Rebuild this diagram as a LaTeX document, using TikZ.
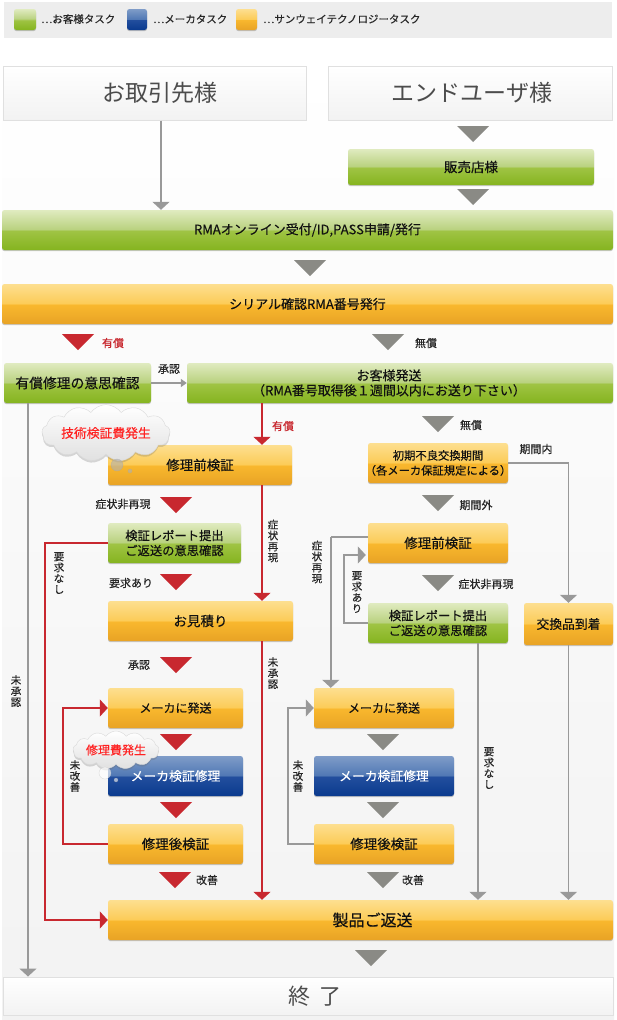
\documentclass[tikz,border=0pt]{standalone}
\usepackage{fontspec}
\setmainfont[FakeBold=0.3]{Noto Sans CJK JP}
\newfontfamily\lightf{Noto Sans CJK JP}
\usetikzlibrary{arrows.meta,shadows,shapes.symbols}
\definecolor{gt}{HTML}{E0EBC0}\definecolor{gma}{HTML}{B8D17E}\definecolor{gmb}{HTML}{A0C445}\definecolor{gb}{HTML}{85B41F}
\definecolor{ot}{HTML}{FDDF90}\definecolor{oma}{HTML}{FCCB57}\definecolor{omb}{HTML}{F9B82E}\definecolor{ob}{HTML}{E8A325}
\definecolor{bt}{HTML}{7F9CC8}\definecolor{bma}{HTML}{5078B4}\definecolor{bmb}{HTML}{234F9E}\definecolor{bb}{HTML}{0A3A8E}
\definecolor{redc}{HTML}{C8282F}\definecolor{grayc}{HTML}{999999}\definecolor{trig}{HTML}{8A8A85}\definecolor{ink}{HTML}{111111}\definecolor{cloudred}{HTML}{FF2222}
\pgfdeclareverticalshading{glossg}{100bp}{color(0bp)=(gb); color(25bp)=(gb); color(49.7bp)=(gmb); color(50.3bp)=(gma); color(75bp)=(gt); color(100bp)=(gt)}
\pgfdeclareverticalshading{glosso}{100bp}{color(0bp)=(ob); color(25bp)=(ob); color(49.7bp)=(omb); color(50.3bp)=(oma); color(75bp)=(ot); color(100bp)=(ot)}
\pgfdeclareverticalshading{glossb}{100bp}{color(0bp)=(bb); color(25bp)=(bb); color(49.7bp)=(bmb); color(50.3bp)=(bma); color(75bp)=(bt); color(100bp)=(bt)}
\newcommand\fz[1]{\fontsize{#1}{15}\selectfont}
\tikzset{
 base/.style={rounded corners=2.5pt,inner sep=0pt,align=center,text=ink,font=\fz{13.5},
   drop shadow={shadow xshift=0pt,shadow yshift=-1.2pt,opacity=.35,fill=black!60}},
 gbox/.style={base,shading=glossg},
 obox/.style={base,shading=glosso},
 bbox/.style={base,shading=glossb,text=white},
 wbox/.style={inner sep=0pt,draw=black!12,line width=1pt,top color=white,bottom color=black!5,text=black!70,align=center},
 lab/.style={inner sep=0pt,text=black!85,font=\fontsize{11}{11}\selectfont,align=center},
 vlab/.style={lab,font=\fontsize{10.5}{11}\selectfont},
 rlab/.style={lab,text=redc},
 leg/.style={inner sep=0pt,anchor=west,text=black!85,font=\fontsize{10.5}{12}\selectfont},
 gc/.style={draw=grayc,line width=1.5pt,-{Triangle[width=17pt,length=8pt]}},
 rc/.style={draw=redc,line width=1.5pt,-{Triangle[width=17pt,length=8pt]}},
 gsmall/.style={draw=grayc,line width=1.5pt,-{Triangle[width=8pt,length=6pt]}},
 bubble/.style={cloud,cloud puffs=13,cloud puff arc=110,aspect=3,inner sep=0pt,draw=black!15,top color=white,bottom color=black!12,text=cloudred,
   drop shadow={shadow xshift=0pt,shadow yshift=-2pt,opacity=.25,fill=black!60}},
 dot/.style={circle,inner sep=0pt,fill=black!30,draw=black!35,fill opacity=.6,draw opacity=.5},
}
\newcommand\bx[6]{\node[#1,minimum width={(#4-#2)*1pt},minimum height={(#5-#3)*1pt}] (#6) at ({(#2+#4)/2},{(#3+#5)/2})}
\newcommand\tri[3]{\fill[#3] ({#1-16},#2) -- ({#1+16},#2) -- (#1,{#2+16}) -- cycle;}
\begin{document}
\begin{tikzpicture}[x=1pt,y=-1pt]
\useasboundingbox (0,0) rectangle (616,1020);
\fill[white] (0,0) rectangle (616,1020);
\shade[top color=white,bottom color=black!5] (2,65) rectangle (614,1020);
% legend
\fill[black!7] (4,2) rectangle (612,38);
\bx{gbox}{14}{9}{36}{30}{lgG} {};
\bx{bbox}{127}{9}{147}{30}{lgB} {};
\bx{obox}{236}{9}{257}{30}{lgO} {};
\node[leg] (ltG) at (41,19) {…お客様タスク};
\node[leg] (ltB) at (153,19) {…メーカタスク};
\node[leg] (ltO) at (263,19) {…サンウェイテクノロジータスク};
% boxes
\bx{wbox,font=\lightf\fz{23}}{3}{66}{306}{120}{torihiki} {\raisebox{-1.5pt}{お取引先様}\hspace*{-11pt}};
\bx{wbox,font=\lightf\fz{23}}{328}{66}{612}{120}{enduser} {\raisebox{-1.5pt}{エンドユーザ様}\hspace*{-4pt}};
\bx{gbox}{348}{149}{594}{185}{hanbai} {販売店様};
\bx{gbox,font=\fz{13}}{2}{210}{613}{250}{rma} {\raisebox{-1pt}{RMAオンライン受付/ID,PASS申請/発行}};
\bx{obox,font=\fz{13}}{2}{284}{613}{324}{serial} {シリアル確認RMA番号発行};
\bx{gbox,font=\fz{13.8}}{4}{363}{151}{403}{yushoC} {有償修理の意思確認};
\bx{gbox,font=\fz{13}}{187}{363}{613}{403}{okyaku} {お客様発送\hspace*{22pt}\\（RMA番号取得後１週間以内にお送り下さい）\hspace*{22pt}};
\bx{obox}{108}{445}{292}{485}{maeL} {修理前検証};
\bx{gbox,font=\fz{12.3}}{108}{523}{241}{563}{repL} {検証レポート提出\\ご返送の意思確認};
\bx{obox}{108}{601}{293}{641}{mitsu} {お見積り};
\bx{obox,font=\fz{12}}{108}{688}{243}{728}{sendL} {メーカに発送};
\bx{bbox,font=\fz{12.8}}{108}{756}{243}{796}{makerL} {メーカ検証修理};
\bx{obox}{108}{824}{243}{864}{atoL} {修理後検証};
\bx{obox,font=\fz{16}}{108}{900}{613}{940}{henso} {製品ご返送\hspace*{-24pt}};
\bx{wbox,font=\lightf\fz{22}}{3}{977}{613}{1015}{owari} {\raisebox{-1pt}{終\hspace{0.4em}了}\hspace*{-14pt}};
\bx{obox,font=\fz{11.3}}{368}{443}{508}{483}{shoki} {初期不良交換期間\\\hspace*{-5pt}（各メーカ保証規定による）\hspace*{-5pt}};
\bx{obox}{368}{523}{508}{563}{maeR} {修理前検証};
\bx{gbox,font=\fz{12.3}}{368}{603}{508}{643}{repR} {検証レポート提出\\ご返送の意思確認};
\bx{obox,font=\fz{12.8}}{524}{603}{613}{645}{kokan} {交換品到着};
\bx{obox,font=\fz{12}}{314}{688}{454}{728}{sendR} {メーカに発送};
\bx{bbox,font=\fz{12.8}}{314}{756}{454}{796}{makerR} {メーカ検証修理};
\bx{obox}{314}{824}{454}{864}{atoR} {修理後検証};
% connectors
\draw[gc] ([xshift=6.5pt]torihiki.south) -- ([xshift=6.5pt]torihiki.south |- rma.north);
\draw[gsmall] (yushoC.east) -- (okyaku.west);
\draw[gc] ([xshift=-49.5pt]yushoC.south) -- ([xshift=-49.5pt]yushoC.south |- owari.north);
\draw[rc] ([xshift=-138pt]okyaku.south) -- ([xshift=-138pt]okyaku.south |- maeL.north);
\draw[rc] ([xshift=62pt]maeL.south) -- ([xshift=62pt]maeL.south |- mitsu.north);
\draw[rc] ([xshift=61.5pt]mitsu.south) -- ([xshift=61.5pt]mitsu.south |- henso.north);
\draw[rc] (repL.west) -- ++(-63,0) coordinate (repLc) |- (henso.west);
\draw[rc] (atoL.west) -- ++(-45,0) coordinate (atoLc) |- (sendL.west);
\draw[gc] (shoki.east) -| (kokan.north);
\draw[gc] (kokan.south) -- (kokan.south |- henso.north);
\draw[gc] ([xshift=40pt]repR.south) -- ([xshift=40pt]repR.south |- henso.north);
\draw[draw=grayc,line width=1.5pt] ([yshift=6pt]maeR.west) -- ++(-37,0) coordinate (maeRc);
\draw[gc] (maeRc) -- (maeRc |- sendR.north);
\draw[gsmall,-{Triangle[width=17pt,length=8pt]}] (repR.west) -- ++(-24,0) coordinate (repRc) |- ([yshift=-12pt,xshift=-2pt]maeR.west);
\draw[gsmall,-{Triangle[width=17pt,length=8pt]}] (atoR.west) -- ++(-26,0) coordinate (atoRc) |- (sendR.west);
% flow triangles
\tri{473}{126}{trig}\tri{473}{189}{trig}\tri{310}{260}{trig}
\tri{78}{334}{redc}\tri{388}{334}{trig}
\tri{438}{416}{trig}\tri{438}{495}{trig}\tri{438}{575}{trig}
\tri{176}{497}{redc}\tri{176}{574}{redc}\tri{176}{657}{redc}
\tri{176}{734}{redc}\tri{176}{802}{redc}\tri{175}{872}{redc}
\tri{383}{734}{trig}\tri{383}{802}{trig}\tri{383}{872}{trig}
\tri{371}{950}{trig}
% labels
\node[rlab] (l1) at (113,343) {有償};
\node[lab] (l2) at (426,343) {無償};
\node[lab] (l3) at (169,369) {承認};
\node[rlab] (l4) at (283,426) {有償};
\node[lab] (l5) at (471,425) {無償};
\node[lab] (l6) at (536,449) {期間内};
\node[lab] (l7) at (476,505) {期間外};
\node[lab] (l8) at (123,504) {症状非再現};
\node[lab] (l9) at (131,583) {要求あり};
\node[lab] (l10) at (139,665) {承認};
\node[lab] (l11) at (486,584) {症状非再現};
\node[lab] (l12) at (207,880) {改善};
\node[lab] (l13) at (413,880) {改善};
\node[vlab] (v1) at (59,573) {要\\求\\な\\し};
\node[vlab] (v2) at (273,541) {症\\状\\再\\現};
\node[vlab] (v3) at (273,673) {未\\承\\認};
\node[vlab] (v4) at (16,691) {未\\承\\認};
\node[vlab] (v5) at (75,776) {未\\改\\善};
\node[vlab] (v6) at (298,776) {未\\改\\善};
\node[vlab] (v7) at (317,562) {症\\状\\再\\現};
\node[vlab] (v8) at (357,592) {要\\求\\あ\\り};
\node[vlab] (v9) at (489,768) {要\\求\\な\\し};
% thought clouds
\node[bubble,minimum width=122pt,minimum height=42pt,font=\fz{12.8}] (c1) at (106,433) {技術検証費発生};
\node[dot,minimum width=12pt,minimum height=11pt] (c1a) at (117,465) {};
\node[dot,minimum width=4pt,minimum height=4pt] (c1b) at (130,471) {};
\node[bubble,minimum width=84pt,minimum height=34pt,font=\fz{12}] (c2) at (116,750) {修理費発生};
\node[dot,minimum width=12pt,minimum height=11pt,fill=white,draw=black!25] (c2a) at (105,773) {};
\node[dot,minimum width=4pt,minimum height=4pt,fill=white] (c2b) at (116,780) {};
\end{tikzpicture}
\end{document}
